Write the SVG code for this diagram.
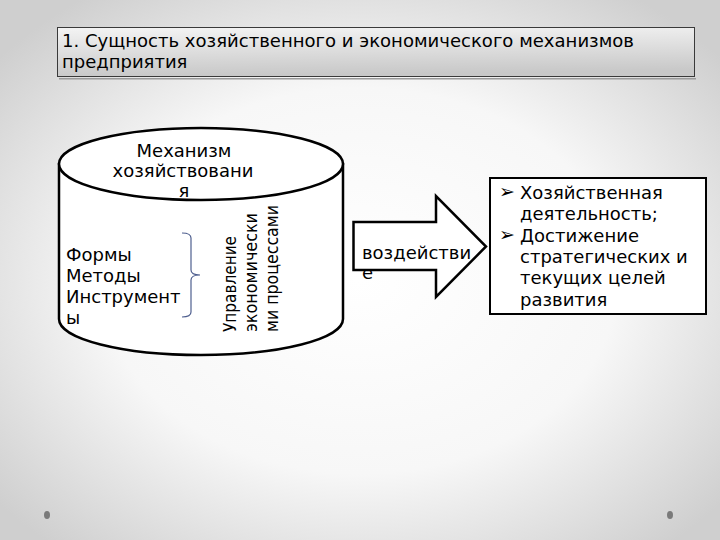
<svg xmlns="http://www.w3.org/2000/svg" width="720" height="540" viewBox="0 0 720 540">
<defs>
<radialGradient id="bg" cx="50%" cy="52%" r="65%">
<stop offset="0" stop-color="#ffffff"/>
<stop offset="0.55" stop-color="#f7f7f7"/>
<stop offset="1" stop-color="#cfcfcf"/>
</radialGradient>
<linearGradient id="tg" x1="0" y1="0" x2="0.15" y2="1">
<stop offset="0" stop-color="#f4f4f4"/>
<stop offset="1" stop-color="#c8c8c8"/>
</linearGradient>
<style>
text{font-family:"DejaVu Sans","Noto Sans",sans-serif;fill:#000}
.t{font-size:18px}
.h{font-size:18px}
.v{font-size:17.5px}
.bul{font-size:19px}
.sh{fill:#fff;stroke:#000;stroke-width:2.5}
</style>
</defs>
<rect x="0" y="0" width="720" height="540" fill="url(#bg)"/>
<ellipse cx="47" cy="515" rx="3" ry="4" fill="#7a7a7a"/>
<ellipse cx="670" cy="515" rx="3" ry="4" fill="#7a7a7a"/>

<g id="title">
<rect x="59" y="78" width="637" height="1.5" fill="#9a9a9a"/>
<rect x="57.5" y="27.5" width="637" height="49" fill="url(#tg)" stroke="#3a3a3a" stroke-width="1"/>
<text class="h" x="62" y="47" textLength="572" lengthAdjust="spacingAndGlyphs">1. Сущность хозяйственного и экономического механизмов</text>
<text class="h" x="62" y="68">предприятия</text>
</g>

<g id="mechanism">
<path class="sh" d="M59,164 L59,319 A142,36 0 0 0 343,319 L343,164 Z"/>
<ellipse class="sh" cx="201" cy="164" rx="142" ry="36"/>
<text class="t" x="184" y="157" text-anchor="middle">Механизм</text>
<text class="t" x="183" y="177" text-anchor="middle">хозяйствовани</text>
<text class="t" x="184" y="197" text-anchor="middle">я</text>
</g>

<g id="forms">
<text class="t" x="66" y="261">Формы</text>
<text class="t" x="66" y="282">Методы</text>
<text class="t" x="66" y="303">Инструмент</text>
<text class="t" x="66" y="324">ы</text>
</g>

<g id="management">
<text class="v" transform="translate(236,332) rotate(-90)" textLength="96" lengthAdjust="spacingAndGlyphs">Управление</text>
<text class="v" transform="translate(257,332) rotate(-90)" textLength="119" lengthAdjust="spacingAndGlyphs">экономически</text>
<text class="v" transform="translate(278,332) rotate(-90)" textLength="127" lengthAdjust="spacingAndGlyphs">ми процессами</text>
</g>

<g id="connectors">
<path d="M182,233 Q191,233 191,238 L191,270 Q191,275 200,275 Q191,275 191,280 L191,312 Q191,317 182,317" fill="none" stroke="#4f5f8f" stroke-width="1.2"/>
</g>

<g id="arrow">
<path class="sh" d="M353.5,222 L436,222 L436,196 L486,246.5 L436,297 L436,270 L353.5,270 Z" stroke-linejoin="miter"/>
<text class="t" x="362" y="259">воздействи</text>
<text class="t" x="362" y="279">е</text>
</g>

<g id="result">
<rect x="490" y="178" width="216" height="136" fill="#fff" stroke="#000" stroke-width="2"/>
<text class="bul" x="499" y="198">➢</text>
<text class="t" x="520" y="199">Хозяйственная</text>
<text class="t" x="520" y="220">деятельность;</text>
<text class="bul" x="499" y="241">➢</text>
<text class="t" x="520" y="242">Достижение</text>
<text class="t" x="520" y="263">стратегических и</text>
<text class="t" x="520" y="284">текущих целей</text>
<text class="t" x="520" y="306">развития</text>
</g>
</svg>
